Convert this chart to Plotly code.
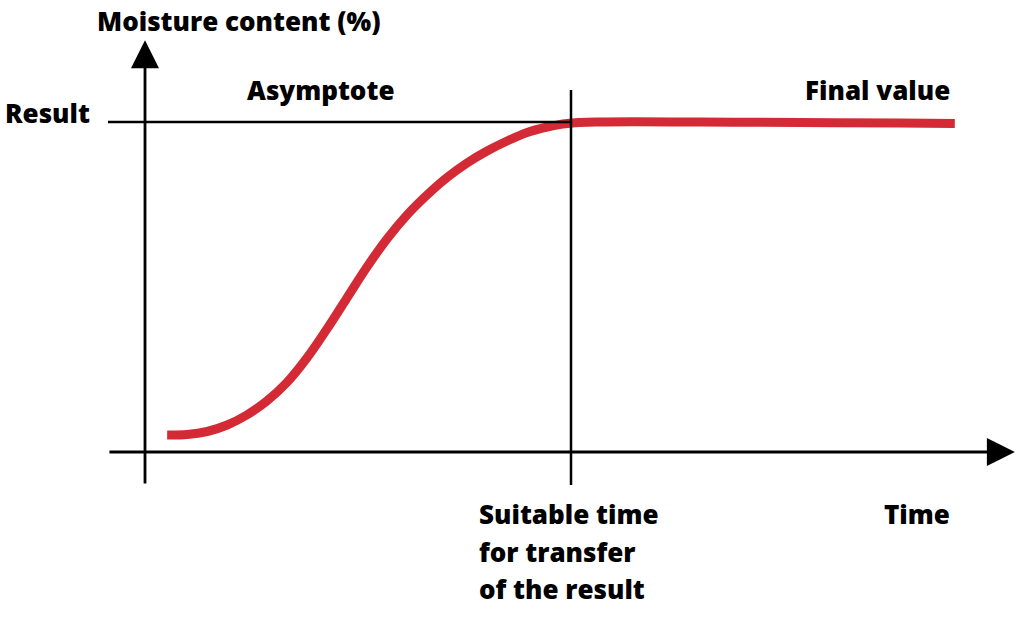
import plotly.graph_objects as go

# time (arbitrary units, 10 = suitable transfer time) and moisture (% of result)
time = [0.52, 0.99, 1.46, 1.93, 2.39, 2.86, 3.33, 3.80, 4.27, 4.74, 5.21, 5.68,
        6.15, 6.62, 7.09, 7.56, 8.03, 8.50, 8.97, 9.44, 9.91, 10.68, 13.03,
        15.38, 17.72, 19.01]
moisture = [5.15, 5.30, 6.21, 8.18, 11.21, 15.45, 21.06, 28.48, 37.27, 46.67,
            56.06, 64.55, 71.82, 77.88, 83.18, 87.58, 91.21, 94.24, 96.82, 98.48,
            99.55, 100.0, 100.0, 99.85, 99.7, 99.55]

result_level = 100
suitable_time = 10
transfer_lines = ["Suitable time", "for transfer", "of the result"]

FONT = dict(family="Open Sans", size=26, color="black", weight=800)
RED = "#d42a35"

fig = go.Figure()
fig.add_trace(go.Scatter(x=time, y=moisture, mode="lines",
                         line=dict(color=RED, width=9, shape="spline", smoothing=1),
                         hoverinfo="skip"))

# result level and transfer time lines
fig.add_shape(type="line", x0=-0.87, x1=suitable_time, y0=result_level, y1=result_level,
              line=dict(color="black", width=2.5))
fig.add_shape(type="line", x0=suitable_time, x1=suitable_time, y0=-10, y1=109.7,
              line=dict(color="black", width=2.5))

# axes with arrows
fig.add_annotation(x=20.42, y=0, ax=-0.87, ay=0, xref="x", yref="y", axref="x", ayref="y",
                   text="", showarrow=True, arrowhead=2, arrowsize=2, arrowwidth=2.8,
                   arrowcolor="black")
fig.add_annotation(x=0, y=124.8, ax=0, ay=-10, xref="x", yref="y", axref="x", ayref="y",
                   text="", showarrow=True, arrowhead=2, arrowsize=2, arrowwidth=2.8,
                   arrowcolor="black")

labels = [
    ("Moisture content (%)", -1.17, 130.6, "left"),
    ("Result", -3.33, 102.7, "left"),
    ("Asymptote", 4.13, 109.7, "center"),
    ("Final value", 18.94, 109.7, "right"),
    ("Time", 18.94, -18.8, "right"),
]
for text, x, y, xa in labels:
    fig.add_annotation(x=x, y=y, text=text, showarrow=False,
                       xanchor=xa, yanchor="middle", font=FONT)
for i, line in enumerate(transfer_lines):
    fig.add_annotation(x=7.79, y=-18.8 - i * 11.36, text=line, showarrow=False,
                       xanchor="left", yanchor="middle", font=FONT)

fig.update_xaxes(range=[-3.404, 20.587], visible=False, fixedrange=True)
fig.update_yaxes(range=[-51.52, 136.97], visible=False, fixedrange=True)
fig.update_layout(width=1022, height=622, margin=dict(l=0, r=0, t=0, b=0),
                  plot_bgcolor="white", paper_bgcolor="white", showlegend=False)

# drop the default page margin so the figure fills the window
fig.write_html("out.html", config={"displayModeBar": False},
               post_script="document.body.style.margin = '0';")
